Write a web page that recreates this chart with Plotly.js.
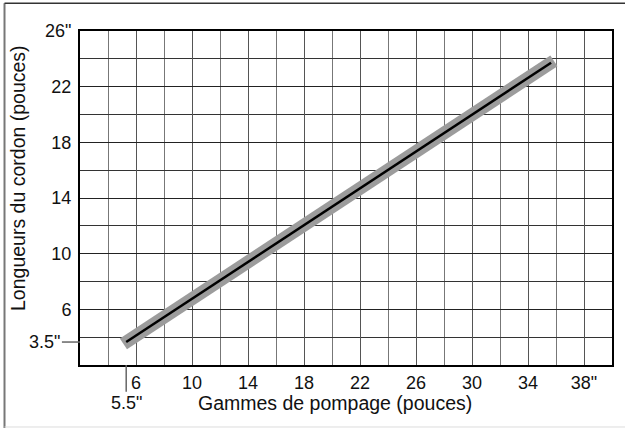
<!DOCTYPE html>
<html>
<head>
<meta charset="utf-8">
<script src="https://cdn.plot.ly/plotly-3.0.1.min.js"></script>
<style>html,body{margin:0;padding:0;background:#fff;}#chart{width:625px;height:428px;}</style>
</head>
<body>
<div id="chart"></div>
<script>
// Data
const pumpRange = [5.3, 35.65];      // Gammes de pompage (pouces) – drawn positions
const cordLength = [3.65, 23.72];    // Longueurs du cordon (pouces)
const bandPump = [5.1, 35.85];       // grey tolerance band
const bandCord = [3.52, 23.85];
const xTickVals = [6, 10, 14, 18, 22, 26, 30, 34, 38];
const xTickText = ['6', '10', '14', '18', '22', '26', '30', '34', '38"'];
const yTickVals = [6, 10, 14, 18, 22, 26];
const yTickText = ['6', '10', '14', '18', '22', '26"'];
const startPumpLabel = '5.5"';
const startCordLabel = '3.5"';

const tickFont = {family: 'Liberation Sans, Arial, sans-serif', size: 18, color: '#111'};
const titleFont = {family: 'Liberation Sans, Arial, sans-serif', size: 19.5, color: '#111'};

const traces = [
  {x: bandPump, y: bandCord, mode: 'lines', line: {color: '#9c9c9c', width: 13}, hoverinfo: 'skip'},
  {x: pumpRange, y: cordLength, mode: 'lines', line: {color: '#000', width: 2.5}}
];

const layout = {
  width: 625, height: 428,
  margin: {l: 80, r: 13, t: 31, b: 63},
  paper_bgcolor: '#fff', plot_bgcolor: '#fff',
  showlegend: false,
  font: tickFont,
  xaxis: {
    range: [2, 40], tickvals: xTickVals, ticktext: xTickText,
    showgrid: true, gridcolor: '#555', gridwidth: 1,
    minor: {dtick: 2, tick0: 0, showgrid: true, gridcolor: '#777', gridwidth: 1},
    zeroline: false, showline: true, linecolor: '#000', linewidth: 2, mirror: true,
    ticks: '', tickfont: tickFont, fixedrange: true
  },
  yaxis: {
    range: [2, 26], tickvals: yTickVals, ticktext: yTickText,
    showgrid: true, gridcolor: '#222', gridwidth: 1,
    minor: {dtick: 2, tick0: 0, showgrid: true, gridcolor: '#333', gridwidth: 1},
    zeroline: false, showline: true, linecolor: '#000', linewidth: 2, mirror: true,
    ticks: 'outside', ticklen: 3, tickcolor: 'rgba(0,0,0,0)', tickfont: tickFont, fixedrange: true
  },
  annotations: [
    {text: 'Longueurs du cordon (pouces)', xref: 'paper', yref: 'paper', x: -0.1165, y: 0.56,
     textangle: -90, showarrow: false, font: titleFont, xanchor: 'center', yanchor: 'middle'},
    {text: 'Gammes de pompage (pouces)', xref: 'paper', yref: 'paper', x: 0.48, y: -0.114,
     showarrow: false, font: titleFont, xanchor: 'center', yanchor: 'middle'},
    {text: startPumpLabel, xref: 'x', yref: 'paper', x: pumpRange[0], y: -0.114,
     showarrow: false, font: tickFont, xanchor: 'center', yanchor: 'middle'},
    {text: startCordLabel, xref: 'paper', yref: 'y', x: -0.034, y: cordLength[0],
     showarrow: false, font: tickFont, xanchor: 'right', yanchor: 'middle'}
  ],
  shapes: [
    {type: 'line', xref: 'x', yref: 'paper', x0: pumpRange[0], x1: pumpRange[0], y0: 0, y1: -0.08,
     line: {color: '#666', width: 1.5}},
    {type: 'line', xref: 'paper', yref: 'y', x0: -0.034, x1: 0, y0: cordLength[0], y1: cordLength[0],
     line: {color: '#666', width: 1.5}},
    {type: 'line', xref: 'paper', yref: 'paper', x0: -0.1419, x1: -0.1419, y0: 1.083, y1: -0.19,
     line: {color: '#777', width: 2}},
    {type: 'line', xref: 'paper', yref: 'paper', x0: -0.1419, x1: 1.03, y0: 1.083, y1: 1.083,
     line: {color: '#333', width: 1.5}},
    {type: 'line', xref: 'paper', yref: 'paper', x0: -0.1419, x1: 1.03, y0: -0.1856, y1: -0.1856,
     line: {color: '#ddd', width: 1}}
  ]
};

Plotly.newPlot('chart', traces, layout, {displayModeBar: false, staticPlot: true});
</script>
</body>
</html>
